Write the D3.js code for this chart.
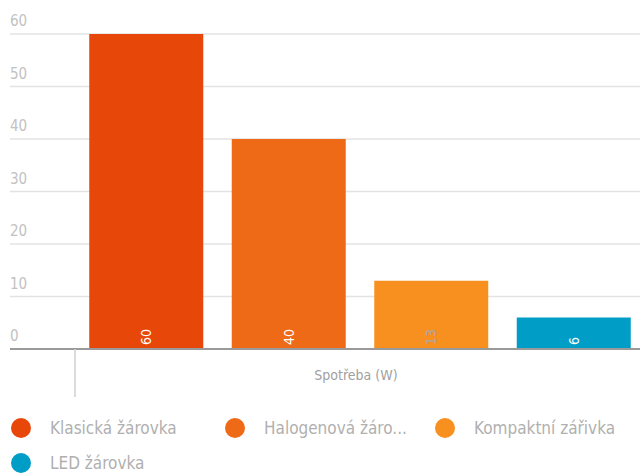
<!DOCTYPE html>
<html>
<head>
<meta charset="utf-8">
<script src="https://cdn.jsdelivr.net/npm/d3@7"></script>
<style>
  body { margin: 0; background: #fff; }
  svg text { font-family: "DejaVu Sans Condensed", "Open Sans", sans-serif; }
</style>
</head>
<body>
<div id="chart"></div>
<script>
var categories = ['Klasická žárovka', 'Halogenová žárovka', 'Kompaktní zářivka', 'LED žárovka'];
var legendLabels = ['Klasická žárovka', 'Halogenová žáro...', 'Kompaktní zářivka', 'LED žárovka'];
var values = [60, 40, 13, 6];
var colors = ['#e8470a', '#ee6a16', '#f7901e', '#009dc6'];
var labelColors = ['#ffffff', '#ffffff', '#a8a8a8', '#ffffff'];
var yTicks = [0, 10, 20, 30, 40, 50, 60];
var axisTitle = 'Spotřeba (W)';

var g = {};
g.fullWidth = 640;
g.fullHeight = 473;

g.svg = d3.select('#chart')
  .append('svg')
    .attr('width', g.fullWidth)
    .attr('height', g.fullHeight);

// Set the ranges
g.x = d3.scaleBand().domain(categories).range([75, 645]).paddingInner(0.2).paddingOuter(0.1);
g.y = d3.scaleLinear().domain([0, 60]).range([349, 34]);

// grid lines + tick labels
var grid = g.svg.append('g').attr('class', 'grid');
grid.selectAll('line').data(yTicks.filter(function(d) { return d > 0; }))
  .enter().append('line')
    .attr('x1', 10)
    .attr('x2', 640)
    .attr('y1', function(d) { return g.y(d); })
    .attr('y2', function(d) { return g.y(d); })
    .attr('stroke', '#e3e3e3')
    .attr('stroke-width', 1.5);

grid.selectAll('text').data(yTicks)
  .enter().append('text')
    .attr('x', 10)
    .attr('y', function(d) { return g.y(d) - 8; })
    .attr('font-size', 15)
    .attr('fill', '#c2c2c2')
    .text(function(d) { return d; });

// bars
g.svg.append('g').selectAll('rect').data(values)
  .enter().append('rect')
    .attr('x', function(d, i) { return g.x(categories[i]); })
    .attr('y', function(d) { return g.y(d); })
    .attr('width', g.x.bandwidth())
    .attr('height', function(d) { return g.y(0) - g.y(d); })
    .attr('fill', function(d, i) { return colors[i]; });

// value labels, rotated
g.svg.append('g').selectAll('text').data(values)
  .enter().append('text')
    .attr('transform', function(d, i) {
      return 'translate(' + (g.x(categories[i]) + g.x.bandwidth() / 2 + 5) + ',' + (g.y(0) - 4) + ') rotate(-90)';
    })
    .attr('font-size', 14)
    .attr('fill', function(d, i) { return labelColors[i]; })
    .text(function(d) { return d; });

// x axis line
g.svg.append('line')
  .attr('x1', 10)
  .attr('x2', 640)
  .attr('y1', g.y(0))
  .attr('y2', g.y(0))
  .attr('stroke', '#9a9a9a')
  .attr('stroke-width', 2);

g.svg.append('line')
  .attr('x1', 75)
  .attr('x2', 75)
  .attr('y1', g.y(0))
  .attr('y2', 397)
  .attr('stroke', '#d0d0d0')
  .attr('stroke-width', 1.5);

g.svg.append('text')
  .attr('x', 356)
  .attr('y', 380)
  .attr('text-anchor', 'middle')
  .attr('font-size', 14)
  .attr('fill', '#a0a0a0')
  .text(axisTitle);

// legend
var legendPos = [[21, 428], [235, 428], [445, 428], [21, 463]];
var legend = g.svg.append('g').selectAll('g').data(legendLabels)
  .enter().append('g')
    .attr('transform', function(d, i) { return 'translate(' + legendPos[i][0] + ',' + legendPos[i][1] + ')'; });

legend.append('circle')
  .attr('r', 10)
  .attr('fill', function(d, i) { return colors[i]; });

legend.append('text')
  .attr('x', 29)
  .attr('y', 6)
  .attr('font-size', 17)
  .attr('fill', '#b0b0b0')
  .text(function(d) { return d; });
</script>
</body>
</html>
